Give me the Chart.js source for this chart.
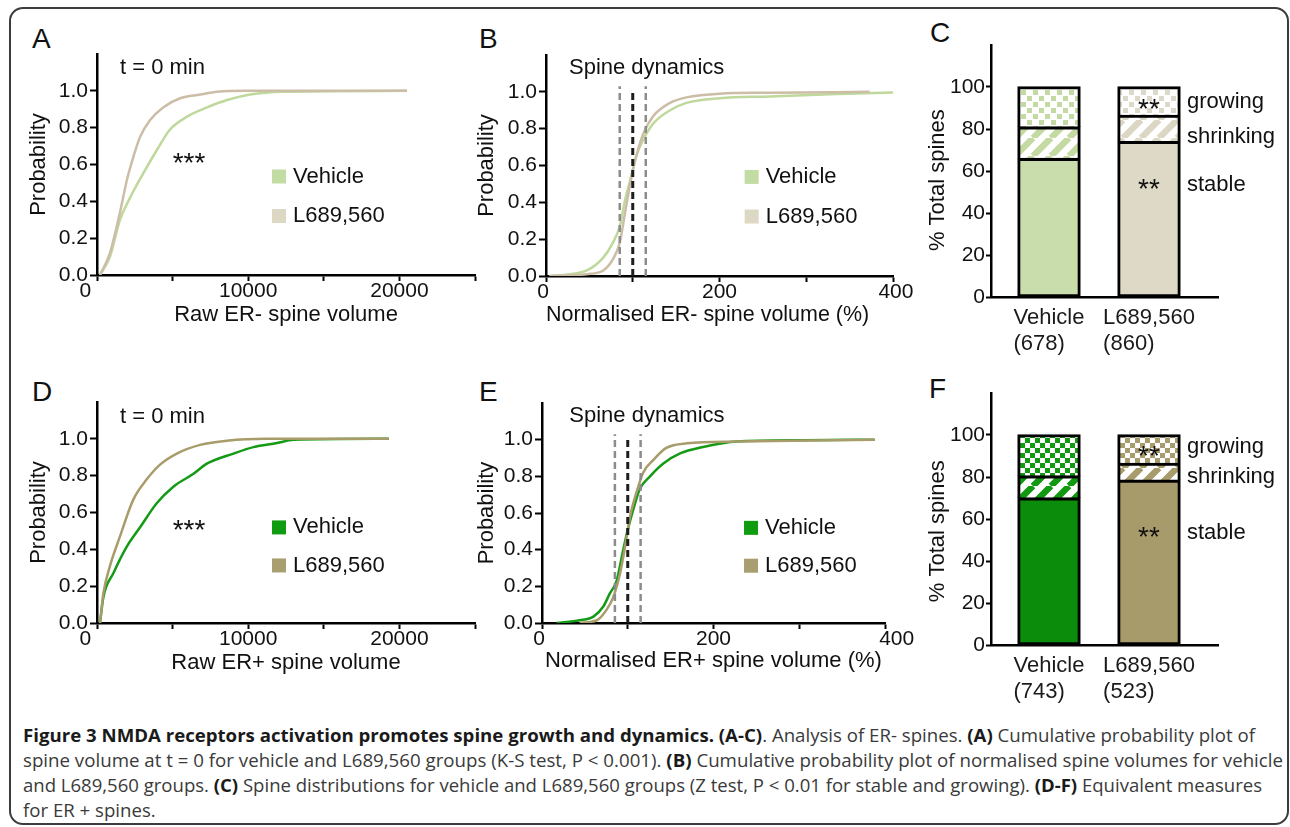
<!DOCTYPE html>
<html>
<head>
<meta charset="utf-8">
<script src="https://cdn.jsdelivr.net/npm/chart.js@4.4.1/dist/chart.umd.min.js"></script>
<style>
  body { margin: 0; background: #fff; width: 1290px; height: 827px; position: relative; overflow: hidden;
         font-family: "Liberation Sans", Arial, Helvetica, sans-serif; }
  #frame { position: absolute; left: 9px; top: 7px; width: 1280px; height: 818px; box-sizing: border-box;
           border: 2px solid #3c3c3c; border-radius: 14px; }
  .letter { position: absolute; font-size: 28px; line-height: 28px; color: #111; }
  canvas { position: absolute; }
  .cap { position: absolute; left: 23px; white-space: nowrap; font-family: "Open Sans", "Noto Sans", sans-serif;
         font-size: 18px; line-height: 26px; color: #3a3a3a; transform-origin: 0 0; }
  .cap b { color: #1a1a1a; }
</style>
</head>
<body>
<div id="frame"></div>

<div class="letter" style="left:32px;top:25px">A</div>
<div class="letter" style="left:479px;top:25px">B</div>
<div class="letter" style="left:930px;top:19px">C</div>
<div class="letter" style="left:32px;top:378px">D</div>
<div class="letter" style="left:479px;top:378px">E</div>
<div class="letter" style="left:929px;top:375px">F</div>

<canvas id="cA" width="459" height="288" style="left:26px;top:40px"></canvas>
<canvas id="cB" width="444" height="288" style="left:474px;top:40px"></canvas>
<canvas id="cC" width="361" height="330" style="left:925px;top:30px"></canvas>
<canvas id="cD" width="459" height="288" style="left:26px;top:388px"></canvas>
<canvas id="cE" width="446" height="286" style="left:474px;top:388px"></canvas>
<canvas id="cF" width="361" height="330" style="left:925px;top:378px"></canvas>

<div class="cap" id="l1" style="top:722px"><b>Figure 3 NMDA receptors activation promotes spine growth and dynamics. (A-C)</b>. Analysis of ER- spines. <b>(A)</b> Cumulative probability plot of</div>
<div class="cap" id="l2" style="top:747px">spine volume at t = 0 for vehicle and L689,560 groups (K-S test, P &lt; 0.001). <b>(B)</b> Cumulative probability plot of normalised spine volumes for vehicle</div>
<div class="cap" id="l3" style="top:772px">and L689,560 groups. <b>(C)</b> Spine distributions for vehicle and L689,560 groups (Z test, P &lt; 0.01 for stable and growing). <b>(D-F)</b> Equivalent measures</div>
<div class="cap" id="l4" style="top:797px">for ER + spines.</div>

<script>
// ---------- data ----------
// A: raw ER- spine volume (cumulative probability)
const aVehX  = [200, 860, 1520, 2190, 3050, 3970, 4830, 5960, 7280, 8600, 10130, 12320, 20500];
const aVehY  = [0, 0.10, 0.30, 0.42, 0.55, 0.68, 0.79, 0.86, 0.91, 0.95, 0.98, 0.995, 1.0];
const aDrugX = [200, 860, 1520, 1990, 2400, 2850, 3500, 4370, 5500, 6820, 7950, 10000, 20500];
const aDrugY = [0, 0.12, 0.34, 0.52, 0.64, 0.75, 0.84, 0.91, 0.96, 0.98, 0.995, 1.0, 1.0];

// D: raw ER+ spine volume
const dVehX  = [200, 420, 1080, 1970, 2850, 3950, 5050, 6380, 7260, 9030, 10350, 11900, 13000, 19300];
const dVehY  = [0, 0.14, 0.27, 0.415, 0.52, 0.65, 0.74, 0.81, 0.865, 0.92, 0.955, 0.977, 0.995, 1.0];
const dDrugX = [200, 420, 860, 1520, 2400, 3290, 4170, 5280, 6820, 8590, 11260, 19300];
const dDrugY = [0, 0.16, 0.31, 0.47, 0.67, 0.78, 0.86, 0.92, 0.967, 0.99, 1.0, 1.0];

// B: normalised ER- spine volume (%)
const bVehX  = [4, 28, 47, 66, 77, 85, 91, 97, 104, 112, 124, 143, 162, 200, 258, 335, 400];
const bVehY  = [0, 0.01, 0.03, 0.10, 0.18, 0.27, 0.41, 0.52, 0.65, 0.74, 0.83, 0.90, 0.94, 0.965, 0.975, 0.988, 0.996];
const bDrugX = [4, 47, 66, 77, 85, 91, 97, 104, 112, 124, 143, 162, 200, 258, 373];
const bDrugY = [0, 0.01, 0.03, 0.09, 0.18, 0.34, 0.50, 0.65, 0.77, 0.87, 0.94, 0.97, 0.99, 0.995, 1.0];

// E: normalised ER+ spine volume (%)
const eVehX  = [17, 44, 60, 71.5, 79, 87, 93, 99, 106.5, 114, 126, 141.5, 161, 188, 227, 306, 388];
const eVehY  = [0, 0.015, 0.035, 0.09, 0.16, 0.23, 0.36, 0.49, 0.62, 0.73, 0.80, 0.87, 0.925, 0.96, 0.99, 0.997, 1.0];
const eDrugX = [44, 64, 75, 83, 91, 97, 102.6, 110, 118, 130, 145, 169, 227, 388];
const eDrugY = [0, 0.015, 0.07, 0.14, 0.27, 0.42, 0.58, 0.71, 0.82, 0.89, 0.955, 0.98, 0.99, 1.0];

// shrinking / stable / growing thresholds (%)
const dynamicsCuts = [85, 100, 115];

// C and F: % of total spines
const groups = ["Vehicle", "L689,560"];
const cCounts = ["(678)", "(860)"];
const fCounts = ["(743)", "(523)"];
const cStable = [66, 74],   cShrinking = [15, 12.5], cGrowing = [19, 13.5];
const fStable = [70, 78.5], fShrinking = [10.5, 8],  fGrowing = [19.5, 13.5];

// tick labels shown
const rawLabelAt  = [0, 10000, 20000];
const normLabelAt = [0, 200, 400];

// ---------- styling ----------
const FAM = '"Liberation Sans", Arial, Helvetica, sans-serif';
const TICK = { family: FAM, size: 21, lineHeight: 1 };
const TITLE = { family: FAM, size: 22 };
const NOTE = "22px " + FAM;
const STARS = "28px " + FAM;
const INK = "#111";
const BORDER = { display: true, color: "#000", width: 2.5 };

// Draws free text, legend keys and two-line category labels
const notesPlugin = {
  id: "notes",
  afterDatasetsDraw(chart, args, opts) {
    const ctx = chart.ctx, xs = chart.scales.x, ys = chart.scales.y;
    ctx.save();
    ctx.textBaseline = "middle";
    (opts.texts || []).forEach(t => {
      ctx.font = t.text.startsWith("*") ? STARS : NOTE;
      ctx.fillStyle = INK;
      ctx.textAlign = t.align || "left";
      ctx.fillText(t.text, xs.getPixelForValue(t.x), ys.getPixelForValue(t.y));
    });
    ctx.font = NOTE;
    (opts.keys || []).forEach(k => {
      const px = xs.getPixelForValue(k.x), py = ys.getPixelForValue(k.y);
      ctx.fillStyle = k.color;
      ctx.fillRect(px, py - 7, 14, 14);
      ctx.fillStyle = INK;
      ctx.textAlign = "left";
      ctx.fillText(k.text, px + 21, py);
    });
    (opts.cats || []).forEach((lines, i) => {
      const cx = xs.getPixelForValue(i);
      const w = ctx.measureText(lines[0]).width;
      ctx.fillStyle = "#1a1a1a";
      ctx.textAlign = "left";
      lines.forEach((s, j) => ctx.fillText(s, cx - w / 2, ys.bottom + 21 + j * 26));
    });
    ctx.restore();
  }
};

const pts = (xs, ys) => xs.map((x, i) => ({ x: x, y: ys[i] }));

function curve(xs, ys, color) {
  return { data: pts(xs, ys), showLine: true, borderColor: color, borderWidth: 2.5,
           pointRadius: 0, cubicInterpolationMode: "monotone", fill: false };
}

function cutLines() {
  return dynamicsCuts.map((v, i) => ({
    data: [{ x: v, y: 0 }, { x: v, y: i === 1 ? 1.0 : 1.03 }],
    showLine: true, pointRadius: 0,
    borderColor: i === 1 ? "#1e1e1e" : "#8c8c8c",
    borderWidth: i === 1 ? 3 : 2.5,
    borderDash: [7, 4]
  }));
}

function cdfChart(id, o) {
  return new Chart(document.getElementById(id), {
    type: "scatter",
    data: { datasets: o.sets },
    options: {
      responsive: false, animation: false, events: [], devicePixelRatio: 1,
      layout: { padding: { left: 0, top: o.padTop, right: o.padRight, bottom: 0 } },
      plugins: { legend: { display: false }, tooltip: { enabled: false }, notes: o.notes },
      scales: {
        x: {
          type: "linear", min: 0, max: o.xMax,
          afterFit: s => { s.height = o.xH; },
          ticks: { stepSize: o.xStep, callback: o.xLabel, font: TICK, color: INK, padding: 0,
                   maxRotation: 0, autoSkip: false },
          grid: { drawOnChartArea: false, drawTicks: true, tickLength: 6, tickWidth: 2, color: "#000" },
          border: BORDER,
          title: { display: true, text: o.xTitle, font: TITLE, color: INK, padding: 0 }
        },
        y: {
          type: "linear", min: 0, max: 1.2,
          afterFit: s => { s.width = o.yW; },
          afterBuildTicks: s => { s.ticks = s.ticks.filter(t => t.value < 1.05); },
          ticks: { stepSize: 0.2, callback: v => Number(v).toFixed(1), font: TICK, color: INK, padding: 2 },
          grid: { drawOnChartArea: false, drawTicks: true, tickLength: 7, tickWidth: 2, color: "#000" },
          border: BORDER,
          title: { display: true, text: "Probability", font: TITLE, color: INK, padding: 0 }
        }
      }
    },
    plugins: [notesPlugin]
  });
}

// pattern tiles for the stacked bars
function dotPattern(ctx, color, tile, size) {
  const c = document.createElement("canvas");
  c.width = c.height = tile;
  const g = c.getContext("2d");
  g.fillStyle = "#fff"; g.fillRect(0, 0, tile, tile);
  g.fillStyle = color;
  g.fillRect(0, 0, size, size);
  g.fillRect(tile / 2, tile / 2, size, size);
  return ctx.createPattern(c, "repeat");
}

function stripePattern(ctx, color, tile, width) {
  const c = document.createElement("canvas");
  c.width = c.height = tile;
  const g = c.getContext("2d");
  g.fillStyle = "#fff"; g.fillRect(0, 0, tile, tile);
  g.strokeStyle = color; g.lineWidth = width;
  g.beginPath();
  [-tile, 0, tile].forEach(k => { g.moveTo(k, tile); g.lineTo(k + tile, 0); });
  g.stroke();
  return ctx.createPattern(c, "repeat");
}

function barChart(id, o) {
  const el = document.getElementById(id);
  const ctx = el.getContext("2d");
  // inflateAmount lets the fill overlap the border edge, so no light seam shows
  const seg = (vals, bg, bw) => ({
    data: vals.map((v, i) => ({ x: i, y: v })),
    backgroundColor: bg, borderColor: "#000", borderWidth: bw,
    borderSkipped: false, barThickness: 62, inflateAmount: 0.7
  });
  const stripes = o.stripeColors.map(c => stripePattern(ctx, c, 18, 6.5));
  const dots = o.dotColors.map(c => dotPattern(ctx, c, o.dotTile, o.dotSize));
  // each segment carries its own top rule, so the separators are single lines
  return new Chart(el, {
    type: "bar",
    data: {
      datasets: [
        seg(o.stable, o.solidColors, { left: 3, right: 3, bottom: 3, top: 3.2 }),
        seg(o.shrinking, stripes, { left: 3, right: 3, bottom: 0, top: 3.2 }),
        seg(o.growing, dots, { left: 3, right: 3, bottom: 0, top: 3 })
      ]
    },
    options: {
      responsive: false, animation: false, events: [], devicePixelRatio: 1,
      layout: { padding: { left: 0, top: 15, right: 68, bottom: 0 } },
      plugins: { legend: { display: false }, tooltip: { enabled: false }, notes: o.notes },
      scales: {
        x: {
          type: "linear", min: -0.58, max: 1.69, stacked: true, offset: false,
          afterFit: s => { s.height = 63; },
          ticks: { display: false },
          grid: { display: false, offset: false },
          border: BORDER
        },
        y: {
          stacked: true, min: 0, max: 120,
          afterFit: s => { s.width = 66; },
          afterBuildTicks: s => { s.ticks = s.ticks.filter(t => t.value <= 100); },
          ticks: { stepSize: 20, font: TICK, color: INK, padding: 1 },
          grid: { drawOnChartArea: false, drawTicks: true, tickLength: 5, tickWidth: 2, color: "#000" },
          border: BORDER,
          title: { display: true, text: o.yTitle, font: TITLE, color: INK, padding: 0 }
        }
      }
    },
    plugins: [notesPlugin]
  });
}

// ---------- panels ----------
const rawLabel = v => rawLabelAt.includes(v) ? (v === 0 ? "0    " : String(v)) : "";
const normLabelB = v => normLabelAt.includes(v) ? (v === 0 ? "0 " : v === 400 ? " 400" : String(v)) : "";
const normLabelE = v => normLabelAt.includes(v) ? (v === 0 ? "0 " : v === 400 ? "    400" : String(v)) : "";

// colours
const paleVeh = "#bfd89c", paleDrug = "#cbbda6", paleVehKey = "#c3dca3", paleDrugKey = "#dcd8c4";
const deepVeh = "#149a14", deepDrug = "#a89c6b", deepVehKey = "#109c10", deepDrugKey = "#a89e70";

cdfChart("cA", {
  sets: [curve(aDrugX, aDrugY, paleDrug), curve(aVehX, aVehY, paleVeh)],
  xMax: 25000, xStep: 5000, xLabel: rawLabel, xTitle: "Raw ER- spine volume",
  padTop: 14, padRight: 10, xH: 53, yW: 71,
  notes: {
    texts: [{ text: "t = 0 min", x: 1520, y: 1.125 }, { text: "***", x: 6085, y: 0.6, align: "center" }],
    keys: [{ text: "Vehicle", color: paleVehKey, x: 11574, y: 0.535 },
           { text: "L689,560", color: paleDrugKey, x: 11574, y: 0.32 }]
  }
});

cdfChart("cD", {
  sets: [curve(dDrugX, dDrugY, deepDrug), curve(dVehX, dVehY, deepVeh)],
  xMax: 25000, xStep: 5000, xLabel: rawLabel, xTitle: "Raw ER+ spine volume",
  padTop: 14, padRight: 10, xH: 53, yW: 71,
  notes: {
    texts: [{ text: "t = 0 min", x: 1520, y: 1.118 }, { text: "***", x: 6085, y: 0.5, align: "center" }],
    keys: [{ text: "Vehicle", color: deepVehKey, x: 11574, y: 0.519 },
           { text: "L689,560", color: deepDrugKey, x: 11574, y: 0.3125 }]
  }
});

cdfChart("cB", {
  sets: [...cutLines(), curve(bDrugX, bDrugY, paleDrug), curve(bVehX, bVehY, paleVeh)],
  xMax: 400, xStep: 100, xLabel: normLabelB, xTitle: "Normalised ER- spine volume (%)    ",
  padTop: 15, padRight: 25, xH: 52, yW: 72,
  notes: {
    texts: [{ text: "Spine dynamics", x: 26.5, y: 1.13 }],
    keys: [{ text: "Vehicle", color: paleVehKey, x: 229, y: 0.538 },
           { text: "L689,560", color: paleDrugKey, x: 229, y: 0.323 }]
  }
});

cdfChart("cE", {
  sets: [...cutLines(), curve(eDrugX, eDrugY, deepDrug), curve(eVehX, eVehY, deepVeh)],
  xMax: 400, xStep: 100, xLabel: normLabelE, xTitle: "Normalised ER+ spine volume (%)",
  padTop: 15, padRight: 35, xH: 51, yW: 68,
  notes: {
    texts: [{ text: "Spine dynamics", x: 31.8, y: 1.127 }],
    keys: [{ text: "Vehicle", color: deepVehKey, x: 235.6, y: 0.519 },
           { text: "L689,560", color: deepDrugKey, x: 235.6, y: 0.3125 }]
  }
});

barChart("cC", {
  stable: cStable, shrinking: cShrinking, growing: cGrowing,
  solidColors: ["#c9dcab", "#ddd9c6"],
  stripeColors: ["#c4daa3", "#dbd7c4"],
  dotColors: ["#c4daa3", "#dcd9c9"], dotTile: 12, dotSize: 5,
  yTitle: "% Total spines   ",
  notes: {
    texts: [{ text: "growing", x: 1.38, y: 92.9 }, { text: "shrinking", x: 1.38, y: 76.2 },
            { text: "stable", x: 1.38, y: 53.3 },
            { text: "**", x: 1, y: 89, align: "center" }, { text: "**", x: 1, y: 51, align: "center" }],
    cats: groups.map((g, i) => [g, cCounts[i]])
  }
});

barChart("cF", {
  stable: fStable, shrinking: fShrinking, growing: fGrowing,
  solidColors: ["#0b8d0b", "#a89b6b"],
  stripeColors: ["#119a11", "#a89c6c"],
  dotColors: ["#119a11", "#a89c6c"], dotTile: 10, dotSize: 5,
  yTitle: "% Total spines    ",
  notes: {
    texts: [{ text: "growing", x: 1.38, y: 94.3 }, { text: "shrinking", x: 1.38, y: 80 },
            { text: "stable", x: 1.38, y: 53.3 },
            { text: "**", x: 1, y: 89.6, align: "center" }, { text: "**", x: 1, y: 50.6, align: "center" }],
    cats: groups.map((g, i) => [g, fCounts[i]])
  }
});

// ---------- caption: stretch each line to its width in the figure ----------
const capWidths = { l1: 1232, l2: 1260, l3: 1239 };
function fitCaption() {
  let sum = 0, n = 0;
  Object.keys(capWidths).forEach(id => {
    const el = document.getElementById(id);
    el.style.transform = "none";
    const k = capWidths[id] / el.getBoundingClientRect().width;
    el.style.transform = "scaleX(" + k + ")";
    sum += k; n++;
  });
  document.getElementById("l4").style.transform = "scaleX(" + (sum / n) + ")";
}
fitCaption();
document.fonts.ready.then(fitCaption);
</script>
</body>
</html>
